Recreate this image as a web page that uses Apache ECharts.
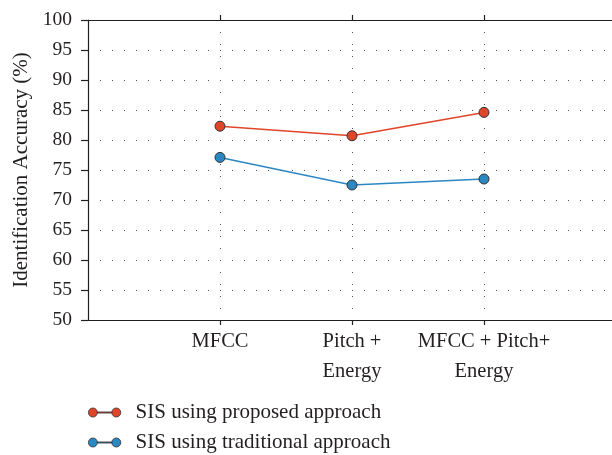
<!DOCTYPE html>
<html>
<head>
<meta charset="utf-8">
<script src="https://cdn.jsdelivr.net/npm/echarts@6/dist/echarts.min.js"></script>
<style>html,body{margin:0;padding:0;background:#fff;}#c{width:612px;height:455px;}</style>
</head>
<body>
<div id="c"></div>
<script>
const categories = ['', 'MFCC', 'Pitch +\nEnergy', 'MFCC + Pitch+\nEnergy', ''];
const proposed = [null, 82.3, 80.7, 84.6, null];
const traditional = [null, 77.1, 72.5, 73.5, null];
const seriesNames = ['SIS using proposed approach', 'SIS using traditional approach'];
const yTitle = 'Identification Accuracy (%)';

const FONT = '"Liberation Serif", "DejaVu Serif", serif';
const TXT = '#231f20';
const AX = '#231f20';
const showMid = (i) => i >= 1 && i <= 3;
const legendIcon = 'path://M0,5a5,5 0 1,0 10,0a5,5 0 1,0 -10,0ZM10,4.4h16v1.2h-16ZM26,5a5,5 0 1,0 10,0a5,5 0 1,0 -10,0Z';

const chart = echarts.init(document.getElementById('c'), null, {renderer: 'canvas'});
chart.setOption({
  animation: false,
  backgroundColor: '#fff',
  textStyle: {fontFamily: FONT, color: TXT},
  grid: {left: 88, top: 20, width: 528, bottom: 135, containLabel: false, outerBoundsMode: 'none'},
  legend: {
    orient: 'vertical', left: 88, top: 402, itemGap: 9, padding: 0, height: 60,
    itemWidth: 36, itemHeight: 9,
    icon: legendIcon,
    textStyle: {fontFamily: FONT, fontSize: 21, color: TXT, padding: [0, 0, 0, 8]},
    itemStyle: {borderColor: '#333', borderWidth: 0.8},
    data: seriesNames
  },
  xAxis: [{
    type: 'category', data: categories, boundaryGap: false,
    axisLine: {lineStyle: {color: AX, width: 1.2}},
    axisTick: {show: true, interval: showMid, length: 5, lineStyle: {color: AX, width: 1.2}},
    axisLabel: {interval: 0, fontFamily: FONT, fontSize: 20.5, color: TXT, lineHeight: 30, margin: 7},
    splitLine: {show: true, interval: showMid, lineStyle: {color: '#555', type: [1, 11], width: 1}}
  }, {
    type: 'category', data: categories, boundaryGap: false, position: 'top',
    axisLine: {lineStyle: {color: AX, width: 1.2}},
    axisTick: {show: true, interval: showMid, length: 5, lineStyle: {color: AX, width: 1.2}},
    axisLabel: {show: false},
    splitLine: {show: false}
  }],
  yAxis: {
    type: 'value', min: 50, max: 100, interval: 5,
    name: yTitle, nameLocation: 'middle', nameGap: 56, nameRotate: 90,
    nameTextStyle: {fontFamily: FONT, fontSize: 21, color: TXT},
    axisLine: {show: true, lineStyle: {color: AX, width: 1.2}},
    axisTick: {show: true, length: 7, lineStyle: {color: AX, width: 1.2}},
    axisLabel: {fontFamily: FONT, fontSize: 19.5, color: TXT, margin: 16},
    splitLine: {show: true, lineStyle: {color: '#555', type: [1, 11], width: 1}}
  },
  series: [{
    name: seriesNames[0], type: 'line', data: proposed, connectNulls: false,
    symbol: 'circle', symbolSize: 10,
    lineStyle: {color: '#e0452a', width: 1.5},
    itemStyle: {color: '#e0452a', borderColor: '#333', borderWidth: 1}
  }, {
    name: seriesNames[1], type: 'line', data: traditional, connectNulls: false,
    symbol: 'circle', symbolSize: 10,
    lineStyle: {color: '#2a87c2', width: 1.5},
    itemStyle: {color: '#2a87c2', borderColor: '#333', borderWidth: 1}
  }]
});
</script>
</body>
</html>
